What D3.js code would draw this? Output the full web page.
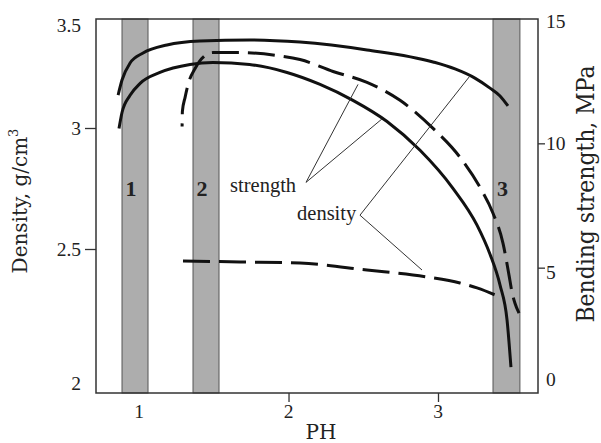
<!DOCTYPE html>
<html>
<head>
<meta charset="utf-8">
<script src="https://cdn.jsdelivr.net/npm/d3@7"></script>
<style>
  body { margin: 0; background: #fff; }
  svg { display: block; }
</style>
</head>
<body>
<svg width="601" height="443"></svg>
<script>
// ---- data ----
const phTicks = [1, 2, 3];
const densityTicks = [2, 2.5, 3, 3.5];
const strengthTicks = [0, 5, 10, 15];

// grey pH bands
const bandStart = [0.886, 1.361, 3.368];
const bandEnd = [1.06, 1.535, 3.548];
const bandLabels = ["1", "2", "3"];

// density, solid (left axis)
const phDensitySolid = [0.86, 0.886, 0.94, 1.027, 1.187, 1.408, 1.742, 2.077, 2.525, 2.967, 3.114, 3.247, 3.348, 3.415, 3.468];
const densitySolid = [3.151, 3.22, 3.298, 3.344, 3.381, 3.399, 3.404, 3.394, 3.358, 3.303, 3.271, 3.229, 3.183, 3.147, 3.101];

// density, dashed (left axis)
const phDensityDashed = [1.294, 1.676, 2.077, 2.525, 2.926, 3.147, 3.261, 3.415];
const densityDashed = [2.458, 2.455, 2.451, 2.427, 2.403, 2.382, 2.365, 2.333];

// strength, solid (right axis)
const phStrengthSolid = [0.866, 0.886, 0.94, 1.007, 1.14, 1.341, 1.495, 1.739, 1.99, 2.211, 2.431, 2.659, 2.88, 3.1, 3.261, 3.348, 3.415, 3.462, 3.488];
const strengthSolid = [10.6, 11.24, 11.93, 12.41, 12.85, 13.17, 13.25, 13.17, 12.85, 12.37, 11.73, 10.88, 9.72, 8.19, 6.71, 5.54, 4.3, 2.89, 1.0];

// strength, dashed (right axis)
const phStrengthDashed = [1.288, 1.29, 1.308, 1.328, 1.375, 1.442, 1.495, 1.676, 1.923, 2.077, 2.298, 2.525, 2.746, 2.967, 3.147, 3.281, 3.368, 3.435, 3.475, 3.495, 3.515, 3.542];
const strengthDashed = [10.68, 11.29, 11.85, 12.37, 13.01, 13.53, 13.65, 13.65, 13.53, 13.37, 12.89, 12.45, 11.73, 10.6, 9.44, 8.23, 7.19, 5.98, 4.7, 4.02, 3.57, 3.17];

const svg = d3.select("svg");
const width = +svg.attr("width");
const height = +svg.attr("height");

const margin = { top: 19, right: 63, bottom: 50, left: 96 };
const innerWidth = width - margin.left - margin.right;
const innerHeight = height - margin.top - margin.bottom;

const x = d3.scaleLinear().domain([0.712, 3.669]).range([0, innerWidth]);
// the printed left axis is not evenly spaced, so map each tick where it sits
const yDensity = d3.scaleLinear().domain(densityTicks).range([innerHeight, 230, 109, 0]);
const yStrength = d3.scaleLinear().domain([0, 15]).range([373, 0]);

const g = svg.append("g").attr("transform", `translate(${margin.left},${margin.top})`);

// bands
g.selectAll("rect.band")
  .data(bandStart)
  .enter()
  .append("rect")
  .attr("class", "band")
  .attr("x", (d) => x(d))
  .attr("y", 0)
  .attr("width", (d, i) => x(bandEnd[i]) - x(d))
  .attr("height", innerHeight)
  .attr("fill", "#adadad")
  .attr("stroke", "#555")
  .attr("stroke-width", 1);

g.selectAll("text.band-label")
  .data(bandLabels)
  .enter()
  .append("text")
  .attr("class", "band-label")
  .attr("x", (d, i) => (x(bandStart[i]) + x(bandEnd[i])) / 2 - 4)
  .attr("y", yStrength(7.9))
  .attr("text-anchor", "middle")
  .attr("font-family", "Liberation Serif, serif")
  .attr("font-weight", "bold")
  .attr("font-size", 22)
  .attr("fill", "#222")
  .text((d) => d);

// curves
const zip = (xs, ys) => xs.map((v, i) => [v, ys[i]]);
const curve = d3.curveMonotoneX;
const lineDensity = d3.line().x((d) => x(d[0])).y((d) => yDensity(d[1])).curve(curve);
const lineStrength = d3.line().x((d) => x(d[0])).y((d) => yStrength(d[1])).curve(curve);

const drawLine = (pts, gen, dashed, offset) => {
  g.append("path")
    .datum(pts)
    .attr("d", gen)
    .attr("fill", "none")
    .attr("stroke", "#111")
    .attr("stroke-width", 3)
    .attr("stroke-dasharray", dashed ? "27,9" : null)
    .attr("stroke-dashoffset", offset || 0);
};

drawLine(zip(phDensitySolid, densitySolid), lineDensity, false);
drawLine(zip(phDensityDashed, densityDashed), lineDensity, true);
drawLine(zip(phStrengthSolid, strengthSolid), lineStrength, false);
drawLine(zip(phStrengthDashed, strengthDashed), lineStrength, true, 24);

// leader lines for the labels
const leaders = [
  { from: [2.117, 8.43], to: [2.465, 12.37], axis: "s" },
  { from: [2.117, 8.43], to: [2.625, 10.98], axis: "s" },
  { from: [2.478, 7.11], to: [3.214, 3.239], axis: "d" },
  { from: [2.478, 7.11], to: [2.893, 2.427], axis: "d" }
];
g.selectAll("line.leader")
  .data(leaders)
  .enter()
  .append("line")
  .attr("class", "leader")
  .attr("x1", (d) => x(d.from[0]))
  .attr("y1", (d) => yStrength(d.from[1]))
  .attr("x2", (d) => x(d.to[0]))
  .attr("y2", (d) => (d.axis === "s" ? yStrength(d.to[1]) : yDensity(d.to[1])))
  .attr("stroke", "#333")
  .attr("stroke-width", 1);

const labelText = (txt, px, s) =>
  g.append("text")
    .attr("x", x(px))
    .attr("y", yStrength(s))
    .attr("font-family", "Liberation Serif, serif")
    .attr("font-size", 20.5)
    .attr("fill", "#222")
    .text(txt);

labelText("strength", 1.609, 8.03);
labelText("density", 2.057, 6.91);

// frame
g.append("rect")
  .attr("width", innerWidth)
  .attr("height", innerHeight)
  .attr("fill", "none")
  .attr("stroke", "#333")
  .attr("stroke-width", 1.5);

// axes: d3 draws ticks, then the labels are pinned at page coordinates
const tickFont = 19.5;
const liftLabels = (sel, anchor, pos) => {
  sel.selectAll(".tick text").each(function (d) {
    const [px, py] = pos(d);
    d3.select(this)
      .attr("x", px)
      .attr("y", py)
      .attr("dy", null)
      .attr("text-anchor", anchor)
      .attr("font-family", "Liberation Serif, serif")
      .attr("font-size", tickFont)
      .attr("fill", "#222");
    svg.node().appendChild(this);
  });
};
const styleAxis = (sel) => {
  sel.select(".domain").remove();
  sel.selectAll(".tick line").attr("stroke", "#333").attr("stroke-width", 1.3);
};

const leftNudge = { 2: -10, 3.5: 6 };
const leftAxisG = g.append("g")
  .call(d3.axisLeft(yDensity).tickValues(densityTicks).tickSize(11).tickFormat(d3.format("")))
  .call(styleAxis);
leftAxisG.selectAll(".tick").filter((d) => d === 2 || d === 3.5).select("line").remove();
liftLabels(leftAxisG, "end", (d) => [margin.left - 15, margin.top + yDensity(d) + 6.5 + (leftNudge[d] || 0)]);

const rightNudge = { 0: -13, 5: 5, 15: 2 };
const rightAxisG = g.append("g")
  .attr("transform", `translate(${innerWidth},0)`)
  .call(d3.axisRight(yStrength).tickValues(strengthTicks).tickSize(7).tickFormat(d3.format("")))
  .call(styleAxis);
rightAxisG.selectAll(".tick").filter((d) => d === 0 || d === 15).select("line").remove();
liftLabels(rightAxisG, "start", (d) => [margin.left + innerWidth + 8, margin.top + yStrength(d) + 6.5 + (rightNudge[d] || 0)]);

const xAxisG = g.append("g")
  .attr("transform", `translate(0,${innerHeight})`)
  .call(d3.axisBottom(x).tickValues(phTicks).tickSize(9).tickFormat(d3.format("")))
  .call(styleAxis);
xAxisG.selectAll(".tick").filter((d) => d === 1).select("line").remove();
liftLabels(xAxisG, "middle", (d) => [margin.left + x(d), margin.top + innerHeight + 25]);

// axis titles
const leftTitle = svg.append("text")
  .attr("transform", "translate(27,201) rotate(-90)")
  .attr("text-anchor", "middle")
  .attr("font-family", "DejaVu Serif, serif")
  .attr("font-size", 20)
  .attr("fill", "#222");
leftTitle.append("tspan").text("Density, g/cm");
leftTitle.append("tspan").attr("dy", -9).attr("font-size", 13).text("3");

svg.append("text")
  .attr("transform", "translate(594,194) rotate(-90)")
  .attr("text-anchor", "middle")
  .attr("font-family", "DejaVu Serif, serif")
  .attr("font-size", 23.5)
  .attr("textLength", 257)
  .attr("lengthAdjust", "spacingAndGlyphs")
  .attr("fill", "#222")
  .text("Bending strength, MPa");

svg.append("text")
  .attr("x", 321)
  .attr("y", 439)
  .attr("text-anchor", "middle")
  .attr("font-family", "DejaVu Serif, serif")
  .attr("font-size", 20)
  .attr("fill", "#222")
  .text("PH");
</script>
</body>
</html>
